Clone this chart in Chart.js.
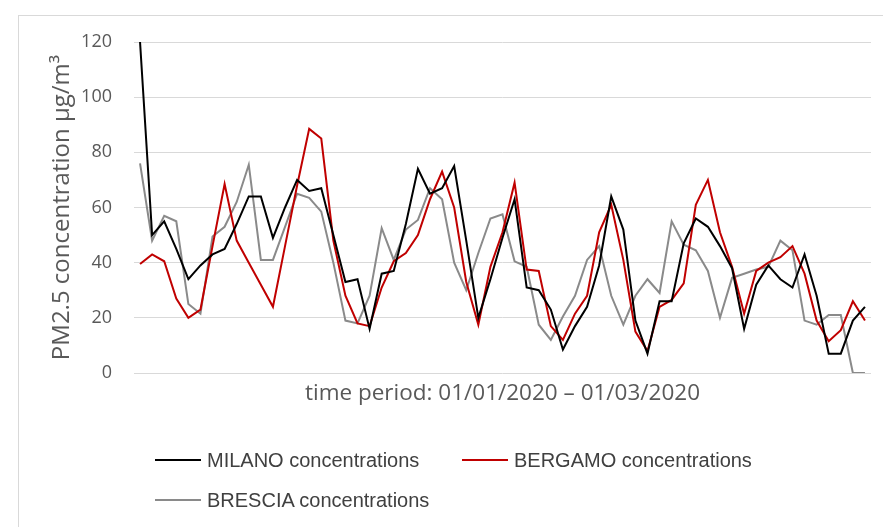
<!DOCTYPE html>
<html>
<head>
<meta charset="utf-8">
<script src="https://cdn.jsdelivr.net/npm/chart.js@4"></script>
<style>
  html, body { margin: 0; padding: 0; background: #ffffff; }
  #wrap { position: relative; width: 883px; height: 527px; overflow: hidden; }
  #frame { position: absolute; left: 18px; top: 15px; width: 900px; height: 600px;
           border-left: 1px solid #d9d9d9; border-top: 1px solid #d9d9d9; }
  canvas { position: absolute; left: 0; top: 0; }
  .lg { position: absolute; height: 30px; line-height: 30px; white-space: nowrap;
        font-family: "Liberation Sans", Arial, sans-serif;
        font-size: 20px; color: #404040; }
  .lg span.sw { position: absolute; left: 0; top: 14px; width: 46px; height: 2px; }
  .lg span.tx { position: absolute; left: 52px; top: 0; }
</style>
</head>
<body>
<div id="wrap">
  <div id="frame"></div>
  <canvas id="c" width="883" height="527"></canvas>
</div>
<script>
// categories: daily dates 01/01/2020 .. 01/03/2020
const categories = [];
for (let m = 1; m <= 3; m++) {
  const days = m === 1 ? 31 : (m === 2 ? 29 : 1);
  for (let d = 1; d <= days; d++) {
    categories.push(String(d).padStart(2, '0') + '/' + String(m).padStart(2, '0') + '/2020');
  }
}

const milano = [120, 50, 55, 45, 34, 39, 43, 45, 54, 64, 64, 49, 60, 70, 66, 67, 50, 33, 34, 16,
  36, 37, 54, 74, 65, 67, 75, 48, 20, 34, 49, 63, 31, 30, 23, 8.5, 17, 24, 39, 64,
  52, 19, 7, 26, 26, 47, 56, 53, 46, 38, 16, 32, 39, 34, 31, 43, 28, 7, 7, 19, 24];

const bergamo = [39.5, 43, 40.5, 27, 20, 23, 46, 68.5, 48, 40, 32, 24, 46, 68, 88.5, 85, 48, 28, 18, 17,
  31, 40.5, 43.5, 50, 63, 73, 60, 33, 17.5, 38.5, 51, 69, 37.5, 37, 17, 12, 21.5, 28, 51, 61,
  41, 15, 8, 24, 26.5, 32.5, 61, 70, 51, 38.5, 21.5, 37, 40, 42, 46, 36, 19, 11.5, 15.5, 26, 19];

const brescia = [76, 48, 57, 55, 25, 21.5, 49.5, 53, 62, 75.5, 41, 41, 53, 65, 63.5, 58.5, 40, 19, 18, 28,
  52.5, 41, 52, 55.5, 67, 63, 40, 30, 43.5, 56, 57.5, 40.5, 38.5, 17.5, 12, 20.5, 28, 41, 46, 28,
  17.5, 28, 34, 29, 55, 46.5, 44.5, 37, 20, 34.5, 36, 37.5, 38.5, 48, 44.5, 19, 17.5, 21, 21, 0, 0];

const seriesNames = ['MILANO concentrations', 'BERGAMO concentrations', 'BRESCIA concentrations'];
const seriesColors = ['#000000', '#c00000', '#8a8a8a'];
const yTicks = [0, 20, 40, 60, 80, 100, 120];
const xTitle = 'time period: 01/01/2020 \u2013 01/03/2020';
const yTitle = 'PM2.5 concentration \u00b5g/m\u00b3';

const seriesData = [milano, bergamo, brescia];
const datasets = seriesData.map((d, i) => ({
  label: seriesNames[i],
  data: d,
  borderColor: seriesColors[i],
  backgroundColor: seriesColors[i],
  borderWidth: 2,
  pointRadius: 0,
  tension: 0,
  fill: false
}));

new Chart(document.getElementById('c'), {
  type: 'line',
  data: { labels: categories, datasets },
  options: {
    responsive: false,
    animation: false,
    layout: { padding: { left: 0, top: 42, right: 12, bottom: 120 } },
    plugins: { legend: { display: false }, tooltip: { enabled: false } },
    scales: {
      x: {
        type: 'category',
        offset: true,
        grid: { display: false },
        border: { display: false },
        ticks: { display: false },
        title: {
          display: true, text: xTitle, color: '#595959',
          font: { family: '"Open Sans", sans-serif', size: 22.5 },
          padding: { top: 0, bottom: 0 }
        },
        afterFit: s => { s.height = 34; }
      },
      y: {
        min: 0, max: 120,
        afterBuildTicks: s => { s.ticks = yTicks.map(v => ({ value: v })); },
        grid: { color: '#d9d9d9', lineWidth: 1, drawTicks: false },
        border: { display: false },
        ticks: {
          color: '#595959', padding: 22,
          font: { family: '"Open Sans", sans-serif', size: 18 }
        },
        title: {
          display: true, text: yTitle, color: '#595959',
          font: { family: '"Open Sans", sans-serif', size: 24 },
          padding: { top: 48, bottom: 0 }
        },
        afterFit: s => { s.width = 134; }
      }
    }
  }
});

// HTML legend built from the series
const legendPos = [[155, 445], [462, 445], [155, 485]];
const wrap = document.getElementById('wrap');
seriesNames.forEach((name, i) => {
  const el = document.createElement('div');
  el.className = 'lg';
  el.style.left = legendPos[i][0] + 'px';
  el.style.top = legendPos[i][1] + 'px';
  const sw = document.createElement('span');
  sw.className = 'sw';
  sw.style.background = seriesColors[i];
  const tx = document.createElement('span');
  tx.className = 'tx';
  tx.textContent = name;
  el.appendChild(sw); el.appendChild(tx);
  wrap.appendChild(el);
});
</script>
</body>
</html>
